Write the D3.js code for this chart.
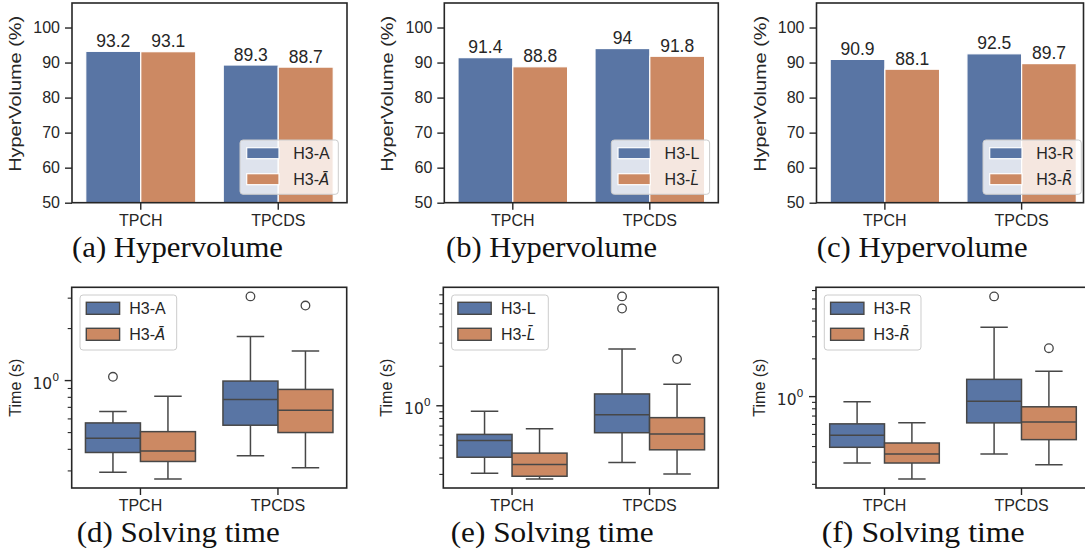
<!DOCTYPE html>
<html>
<head>
<meta charset="utf-8">
<script src="https://cdn.jsdelivr.net/npm/d3@7"></script>
<style>
  html, body { margin: 0; padding: 0; background: #fff; }
  svg { display: block; }
</style>
</head>
<body>
<script>
// ---------------- DATA ----------------
const categories = ["TPCH", "TPCDS"];
const variantLetters = ["A", "L", "R"];

// Hypervolume (%) : plain variant and "bar" variant, per category
const hvA_plain = [93.2, 89.3];
const hvA_bar   = [93.1, 88.7];
const hvL_plain = [91.4, 94];
const hvL_bar   = [88.8, 91.8];
const hvR_plain = [90.9, 92.5];
const hvR_bar   = [88.1, 89.7];
const hvTicks = [50, 60, 70, 80, 90, 100];
const hvLimits = [50, 107];

// Solving time (s) box statistics per category: [whiskerLow, q1, median, q3, whiskerHigh]
const timeA_plain = [[0.293, 0.381, 0.460, 0.565, 0.658], [0.365, 0.548, 0.773, 0.987, 1.786]];
const timeA_plain_out = [[1.045], [3.05]];
const timeA_bar = [[0.268, 0.338, 0.388, 0.503, 0.807], [0.311, 0.497, 0.669, 0.883, 1.475]];
const timeA_bar_out = [[], [2.70]];

const timeL_plain = [[0.303, 0.402, 0.540, 0.600, 0.900], [0.366, 0.618, 0.848, 1.22, 2.68]];
const timeL_plain_out = [[], [6.75, 5.46]];
const timeL_bar = [[0.275, 0.288, 0.354, 0.432, 0.663], [0.300, 0.458, 0.603, 0.805, 1.448]];
const timeL_bar_out = [[], [2.25]];

const timeR_plain = [[0.293, 0.391, 0.488, 0.601, 0.901], [0.346, 0.612, 0.912, 1.36, 3.54]];
const timeR_plain_out = [[], [6.23]];
const timeR_bar = [[0.219, 0.293, 0.346, 0.423, 0.612], [0.284, 0.450, 0.623, 0.822, 1.575]];
const timeR_bar_out = [[], [2.41]];

const hvSubtitles = ["(a) Hypervolume", "(b) Hypervolume", "(c) Hypervolume"];
const timeSubtitles = ["(d) Solving time", "(e) Solving time", "(f) Solving time"];

// ---------------- STYLE / LAYOUT ----------------
const W = 1085, H = 550;
const colors = ["#5975a4", "#cc8963"];
const ink = "#262626";
const boxLine = "#474747";
const sansFont = "'Liberation Sans', Arial, sans-serif";
const serifFont = "'Liberation Serif', 'Times New Roman', serif";

const svg = d3.select("body").append("svg")
  .attr("width", W).attr("height", H)
  .style("background", "#fff");

const topLayouts = [
  { left: 72,    right: 347,  spineRight: 347,    subX: 72 },
  { left: 444.3, right: 718.3, spineRight: 718.3, subX: 446 },
  { left: 816.5, right: 1090, spineRight: 1083.5, subX: 816.7 }
];
const botLayouts = [
  { left: 71.7,  right: 346.7, spineRight: 346.7, subX: 76.7 },
  { left: 443.3, right: 718.3, spineRight: 718.3, subX: 450.7 },
  { left: 816,   right: 1090,  spineRight: 1090,  subX: 821.7 }
];
const topY = [3, 202.7];
const botY = [287.3, 488];

function legendLabel(text, letter, barred) {
  text.append("tspan").text("H3-");
  if (barred) {
    text.append("tspan")
      .style("font-style", "italic")
      .style("font-family", "'DejaVu Sans', sans-serif")
      .style("font-size", "15px")
      .text(letter + "\u0304");
  } else {
    text.append("tspan").text(letter);
  }
}

function frame(g, L, y0, y1) {
  g.append("rect")
    .attr("x", L.left).attr("y", y0)
    .attr("width", L.spineRight - L.left).attr("height", y1 - y0)
    .attr("fill", "none").attr("stroke", ink).attr("stroke-width", 1.6);
}

function styleAxis(sel) {
  sel.select(".domain").remove();
  sel.selectAll(".tick line").attr("stroke", ink).attr("stroke-width", 1.4);
  sel.selectAll(".tick text").attr("fill", ink)
    .style("font-family", sansFont).style("font-size", "16px");
}

// ---------------- TOP ROW: HYPERVOLUME BARS ----------------
const hvData = [[hvA_plain, hvA_bar], [hvL_plain, hvL_bar], [hvR_plain, hvR_bar]];

hvData.forEach((series, p) => {
  const L = topLayouts[p];
  const g = svg.append("g");
  const x = d3.scaleBand().domain(categories).range([L.left, L.right])
    .paddingInner(0.2).paddingOuter(0.1);
  const hue = d3.scaleBand().domain([0, 1]).range([0, x.bandwidth()]);
  const y = d3.scaleLinear().domain(hvLimits).range([topY[1], topY[0]]);

  // bars
  series.forEach((vals, h) => {
    g.selectAll(null).data(vals).enter().append("rect")
      .attr("x", (d, i) => x(categories[i]) + hue(h))
      .attr("y", d => y(d))
      .attr("width", hue.bandwidth())
      .attr("height", d => y(hvLimits[0]) - y(d))
      .attr("fill", colors[h])
      .attr("stroke", "#fff").attr("stroke-width", 1.2);
    g.selectAll(null).data(vals).enter().append("text")
      .attr("x", (d, i) => x(categories[i]) + hue(h) + hue.bandwidth() / 2)
      .attr("y", d => y(d) - 4.5)
      .attr("text-anchor", "middle")
      .attr("fill", ink)
      .style("font-family", sansFont).style("font-size", "17.5px")
      .text(d => d3.format("~g")(d));
  });

  // axes
  g.append("g").attr("transform", `translate(0,${topY[1]})`)
    .call(d3.axisBottom(x).tickSize(7).tickPadding(5))
    .call(styleAxis);
  g.append("g").attr("transform", `translate(${L.left},0)`)
    .call(d3.axisLeft(y).tickValues(hvTicks).tickSize(7).tickPadding(5))
    .call(styleAxis);
  frame(g, L, topY[0], topY[1]);

  // y label
  g.append("text")
    .attr("transform", `translate(${L.left - 51},${(topY[0] + topY[1]) / 2 - 9}) rotate(-90)`)
    .attr("text-anchor", "middle").attr("fill", ink)
    .attr("textLength", 156).attr("lengthAdjust", "spacingAndGlyphs")
    .style("font-family", sansFont).style("font-size", "16px")
    .text("HyperVolume (%)");

  // legend (lower right)
  const lw = 98.3, lh = 54.3;
  const lx = L.right - 8.7 - lw, ly = topY[1] - 8.4 - lh;
  const lg = g.append("g").attr("transform", `translate(${lx},${ly})`);
  lg.append("rect").attr("width", lw).attr("height", lh).attr("rx", 3)
    .attr("fill", "#fff").attr("fill-opacity", 0.8)
    .attr("stroke", "#cccccc").attr("stroke-width", 1);
  [0, 1].forEach(h => {
    const cy = 13.2 + h * 26;
    lg.append("rect").attr("x", 6.7).attr("y", cy - 5.5)
      .attr("width", 32.3).attr("height", 11)
      .attr("fill", colors[h]).attr("stroke", "#fff").attr("stroke-width", 1.2);
    const t = lg.append("text").attr("x", 53.3).attr("y", cy + 5.8)
      .attr("fill", ink).style("font-family", sansFont).style("font-size", "16px");
    legendLabel(t, variantLetters[p], h === 1);
  });

  // subtitle
  svg.append("text").attr("x", L.subX).attr("y", 256.5)
    .attr("fill", "#111")
    .attr("textLength", 211).attr("lengthAdjust", "spacingAndGlyphs")
    .style("font-family", serifFont).style("font-size", "30px")
    .text(hvSubtitles[p]);
});

// ---------------- BOTTOM ROW: SOLVING TIME BOXES ----------------
const timeData = [
  [[timeA_plain, timeA_plain_out], [timeA_bar, timeA_bar_out]],
  [[timeL_plain, timeL_plain_out], [timeL_bar, timeL_bar_out]],
  [[timeR_plain, timeR_plain_out], [timeR_bar, timeR_bar_out]]
];

timeData.forEach((series, p) => {
  const L = botLayouts[p];
  const g = svg.append("g");
  const x = d3.scaleBand().domain(categories).range([L.left, L.right])
    .paddingInner(0.2).paddingOuter(0.1);
  const hue = d3.scaleBand().domain([0, 1]).range([0, x.bandwidth()]);

  // log domain with 5% margins (matplotlib autoscale)
  const allVals = [];
  series.forEach(([stats, outs]) => {
    stats.forEach(s => allVals.push(...s));
    outs.forEach(o => allVals.push(...o));
  });
  const lo = Math.log10(d3.min(allVals)), hi = Math.log10(d3.max(allVals));
  const m = (hi - lo) * 0.05;
  const y = d3.scaleLog().domain([10 ** (lo - m), 10 ** (hi + m)]).range([botY[1], botY[0]]);

  const clip = "clip" + p;
  svg.append("clipPath").attr("id", clip).append("rect")
    .attr("x", L.left).attr("y", botY[0])
    .attr("width", L.spineRight - L.left).attr("height", botY[1] - botY[0]);
  const plot = g.append("g").attr("clip-path", `url(#${clip})`);

  series.forEach(([stats, outs], h) => {
    stats.forEach((s, i) => {
      const x0 = x(categories[i]) + hue(h);
      const bw = hue.bandwidth();
      const cx = x0 + bw / 2;
      const [wl, q1, md, q3, wh] = s;
      const bg = plot.append("g").attr("stroke", boxLine).attr("stroke-width", 1.5);
      bg.append("line").attr("x1", cx).attr("x2", cx).attr("y1", y(q3)).attr("y2", y(wh));
      bg.append("line").attr("x1", cx).attr("x2", cx).attr("y1", y(q1)).attr("y2", y(wl));
      bg.append("line").attr("x1", cx - bw / 4).attr("x2", cx + bw / 4).attr("y1", y(wh)).attr("y2", y(wh));
      bg.append("line").attr("x1", cx - bw / 4).attr("x2", cx + bw / 4).attr("y1", y(wl)).attr("y2", y(wl));
      bg.append("rect").attr("x", x0).attr("y", y(q3))
        .attr("width", bw).attr("height", y(q1) - y(q3))
        .attr("fill", colors[h]);
      bg.append("line").attr("x1", x0).attr("x2", x0 + bw).attr("y1", y(md)).attr("y2", y(md));
      bg.selectAll(null).data(outs[i]).enter().append("circle")
        .attr("cx", cx).attr("cy", d => y(d)).attr("r", 4.3)
        .attr("fill", "none").attr("stroke-width", 1.3);
    });
  });

  // x axis
  g.append("g").attr("transform", `translate(0,${botY[1]})`)
    .call(d3.axisBottom(x).tickSize(7).tickPadding(5))
    .call(styleAxis);

  // y axis: minor ticks
  const minor = y.ticks().filter(v => Math.abs(Math.log10(v) - Math.round(Math.log10(v))) > 1e-9);
  const major = y.ticks().filter(v => Math.abs(Math.log10(v) - Math.round(Math.log10(v))) <= 1e-9);
  g.append("g").attr("transform", `translate(${L.left},0)`)
    .call(d3.axisLeft(y).tickValues(minor).tickSize(4).tickFormat(""))
    .call(styleAxis)
    .selectAll(".tick line").attr("stroke-width", 1.1);
  const majAx = g.append("g").attr("transform", `translate(${L.left},0)`)
    .call(d3.axisLeft(y).tickValues(major).tickSize(7).tickPadding(5).tickFormat(""))
    .call(styleAxis);
  majAx.selectAll(".tick").each(function (v) {
    const t = d3.select(this).select("text")
      .attr("x", -12.5).attr("dy", null).attr("y", 8.5)
      .attr("text-anchor", "end")
      .style("font-family", "'DejaVu Sans', sans-serif").style("font-size", "15.5px");
    t.text("");
    t.append("tspan").text("10");
    t.append("tspan").attr("dy", -8).style("font-size", "11px").text(String(Math.round(Math.log10(v))));
  });

  frame(g, L, botY[0], botY[1]);

  g.append("text")
    .attr("transform", `translate(${L.left - 51},${(botY[0] + botY[1]) / 2}) rotate(-90)`)
    .attr("text-anchor", "middle").attr("fill", ink)
    .style("font-family", sansFont).style("font-size", "16px")
    .text("Time (s)");

  // legend (upper left)
  const lw = 96.7, lh = 55;
  const lx = L.left + 8.3, ly = botY[0] + 7.7;
  const lg = g.append("g").attr("transform", `translate(${lx},${ly})`);
  lg.append("rect").attr("width", lw).attr("height", lh).attr("rx", 3)
    .attr("fill", "#fff").attr("fill-opacity", 0.8)
    .attr("stroke", "#cccccc").attr("stroke-width", 1);
  [0, 1].forEach(h => {
    const cy = 13.3 + h * 26;
    lg.append("rect").attr("x", 6.3).attr("y", cy - 6)
      .attr("width", 33.3).attr("height", 12)
      .attr("fill", colors[h]).attr("stroke", boxLine).attr("stroke-width", 1.4);
    const t = lg.append("text").attr("x", 49.3).attr("y", cy + 5.8)
      .attr("fill", ink).style("font-family", sansFont).style("font-size", "16px");
    legendLabel(t, variantLetters[p], h === 1);
  });

  svg.append("text").attr("x", L.subX).attr("y", 541.5)
    .attr("fill", "#111")
    .attr("textLength", 203).attr("lengthAdjust", "spacingAndGlyphs")
    .style("font-family", serifFont).style("font-size", "30px")
    .text(timeSubtitles[p]);
});
</script>
</body>
</html>
